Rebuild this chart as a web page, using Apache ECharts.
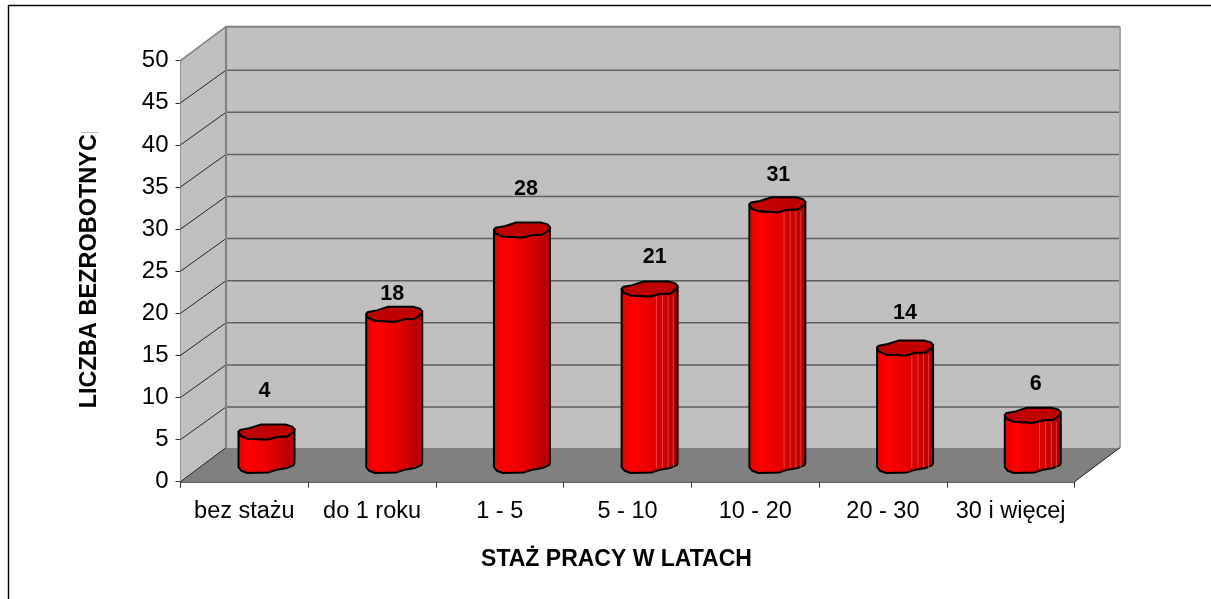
<!DOCTYPE html>
<html><head><meta charset="utf-8">
<style>html,body{margin:0;padding:0;background:#fff}#c{width:1211px;height:599px}</style>
<script src="https://cdn.jsdelivr.net/npm/echarts@6/dist/echarts.min.js"></script>
</head><body><div id="c"></div>
<script>
var categories = ['bez stażu','do 1 roku','1 - 5','5 - 10','10 - 20','20 - 30','30 i więcej'];
var values = [4,18,28,21,31,14,6];
var yTicks = [0,5,10,15,20,25,30,35,40,45,50];
var xTitle = 'STAŻ PRACY W LATACH';
var yTitle = 'LICZBA BEZROBOTNYC';

// 3D look (pixels)
var DX = 45.5, DY = 34, HALF_W = 28, HALF_H = 8, LINE_NUDGE = 1.4;
var labelLift = [41,20,40,31,29,34,31];
var labelShift = [-2,-2,4,5,1,0,3];
var stripedBars = [3,4,5,6];
var backRim = [[-1,.02],[-.94,-.22],[-.62,-.42],[-.21,-.88],[.67,-.88],[.92,-.62],[1,-.3]];
var frontRim = [[1,-.3],[.97,.02],[.73,.62],[.38,.67],[.02,1],[-.68,.88],[-.93,.5],[-1,.02]];
var baseRim = [[-1,.3],[-.9,.75],[-.68,1.04],[.08,.96],[.38,.62],[.73,.42],[.97,.05],[1,-.29]];

function wall(params, api){
  var band = api.size([1,0])[0];
  var x0 = api.coord([0,0])[0] - band/2;
  var x1 = x0 + band*categories.length;
  var y0 = api.coord([0,0])[1];
  var yT = api.coord([0,50])[1];
  var kids = [
    {type:'polygon',shape:{points:[[x0+DX,yT-DY],[x1+DX,yT-DY],[x1+DX,y0-DY],[x0+DX,y0-DY]]},style:{fill:'#c0c0c0',stroke:null}},
    {type:'polygon',shape:{points:[[x0,yT],[x0+DX,yT-DY],[x0+DX,y0-DY],[x0,y0]]},style:{fill:'#c0c0c0',stroke:null}},
    {type:'polygon',shape:{points:[[x0,y0],[x0+DX,y0-DY],[x1+DX,y0-DY],[x1,y0]]},style:{fill:'#808080',stroke:null}}
  ];
  yTicks.forEach(function(v){
    var y = api.coord([0,v])[1];
    var top = v===50;
    var back = y-DY+((top||v===0)?0:LINE_NUDGE);
    if(v>0){
      kids.push({type:'line',shape:{x1:x0+DX,y1:back,x2:x1+DX,y2:back},style:{stroke:top?'#808080':'#5f5f5f',lineWidth:top?2:1.5}});
    }
    kids.push({type:'line',shape:{x1:x0,y1:y,x2:x0+DX,y2:back},style:{stroke:top?'#808080':'#222',lineWidth:top?1.5:1}});
  });
  kids.push({type:'line',shape:{x1:x0+DX,y1:yT-DY,x2:x0+DX,y2:y0-DY},style:{stroke:'#808080',lineWidth:2}});
  kids.push({type:'line',shape:{x1:x1+DX,y1:yT-DY,x2:x1+DX,y2:y0-DY},style:{stroke:'#a0a0a0',lineWidth:2}});
  kids.push({type:'line',shape:{x1:x1,y1:y0,x2:x1+DX,y2:y0-DY},style:{stroke:'#222',lineWidth:1}});
  return {type:'group',children:kids};
}

function bar(params, api){
  var i = api.value(0), v = api.value(1);
  var c0 = api.coord([i,0]), c1 = api.coord([i,v]);
  var cx = c0[0]+DX/2-.6, yb = c0[1]-DY/2, yt = c1[1]-DY/2+.6;
  function map(list,y){return list.map(function(p){return [cx+p[0]*HALF_W,y+p[1]*HALF_H];});}
  var body = map(frontRim,yt).reverse().concat(map(baseRim,yb).reverse());
  var top = map(backRim,yt).concat(map(frontRim,yt));
  var kids = [{
    type:'polygon',shape:{points:body},
    style:{fill:new echarts.graphic.LinearGradient(0,0,1,0,[
      {offset:0,color:'#e40000'},{offset:.2,color:'#ff0000'},{offset:.6,color:'#e00000'},{offset:1,color:'#aa0000'}]),
      stroke:'#000',lineWidth:2,lineJoin:'round'}
  }];
  if(stripedBars.indexOf(i)>=0){
    [.62,.73,.83,.92].forEach(function(f){
      var x = cx-HALF_W+f*2*HALF_W;
      kids.push({type:'line',shape:{x1:x,y1:yt+HALF_H*.9,x2:x,y2:yb+HALF_H*.4},style:{stroke:'rgba(255,130,130,.5)',lineWidth:1}});
    });
  }
  kids.push({type:'polygon',shape:{points:top},style:{fill:'#c00000',stroke:'#000',lineWidth:2,lineJoin:'round'}});
  kids.push({type:'text',style:{text:String(v),x:cx+labelShift[i],y:yt-labelLift[i],align:'center',verticalAlign:'middle',
    font:'bold 21.5px "Liberation Sans", Arial, sans-serif',fill:'#000'}});
  return {type:'group',children:kids};
}

var chart = echarts.init(document.getElementById('c'),null,{renderer:'canvas'});
chart.setOption({
  animation:false,
  backgroundColor:'#fff',
  grid:{left:180.5,top:60.7,width:894,height:421,containLabel:false},
  xAxis:{
    type:'category',data:categories,
    axisLine:{lineStyle:{color:'#333',width:1.5}},
    axisTick:{show:true,length:6,alignWithLabel:false,lineStyle:{color:'#333',width:1}},
    axisLabel:{interval:0,margin:18,color:'#000',fontSize:23.5,fontFamily:'Liberation Sans'},
    splitLine:{show:false},
    name:xTitle,nameLocation:'middle',nameGap:66,
    nameTextStyle:{color:'#000',fontSize:23,fontWeight:'bold',fontFamily:'Liberation Sans',padding:[0,22,0,0]}
  },
  yAxis:{
    type:'value',min:0,max:50,interval:5,
    axisLine:{show:true,lineStyle:{color:'#333',width:1.5}},
    axisTick:{show:true,length:5,lineStyle:{color:'#333',width:1}},
    axisLabel:{margin:12,color:'#000',fontSize:24,fontFamily:'Liberation Sans'},
    splitLine:{show:false},
    name:yTitle,nameLocation:'middle',nameGap:79,nameRotate:90,
    nameTextStyle:{color:'#000',fontSize:23.5,fontWeight:'bold',fontFamily:'Liberation Sans'}
  },
  graphic:[
    {type:'line',silent:true,shape:{x1:8,y1:5.5,x2:1211,y2:5.5},style:{stroke:'#000',lineWidth:1.4}},
    {type:'line',silent:true,shape:{x1:8.5,y1:5,x2:8.5,y2:599},style:{stroke:'#000',lineWidth:1.4}},
    {type:'line',silent:true,shape:{x1:81,y1:132.5,x2:98,y2:132.5},style:{stroke:'#bbb',lineWidth:1}}
  ],
  series:[
    {type:'custom',name:'wall',data:[[0,0]],encode:{x:0,y:1},clip:false,z:1,silent:true,renderItem:wall},
    {type:'custom',name:'Liczba bezrobotnych',data:values.map(function(v,i){return [i,v];}),encode:{x:0,y:1},clip:false,z:5,silent:true,renderItem:bar}
  ]
});
</script></body></html>
